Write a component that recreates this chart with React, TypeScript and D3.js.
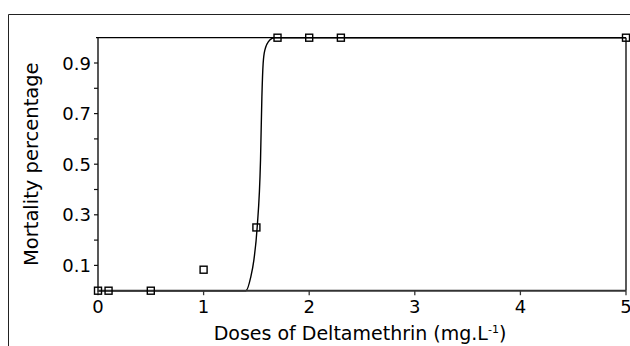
import React from "react";
import * as d3 from "d3";

const doses = [0, 0.1, 0.5, 1, 1.5, 1.7, 2, 2.3, 5];
const mortality = [0, 0, 0, 0.083, 0.25, 1, 1, 1, 1];

const fitX = [0, 1.4, 1.447, 1.476, 1.507, 1.539, 1.552, 1.564, 1.58, 1.627, 1.67, 5];
const fitY = [0, 0, 0.055, 0.121, 0.249, 0.517, 0.767, 0.899, 0.951, 0.991, 1, 1];

const xTicks = [0, 1, 2, 3, 4, 5];
const yTicksMajor = [0.1, 0.3, 0.5, 0.7, 0.9];
const yTicksMinor = [0.2, 0.4, 0.6, 0.8];

const W = 630;
const H = 346;
const FONT = "'DejaVu Sans', Verdana, sans-serif";

export default function App() {
  const left = 98, right = 626, top = 37.7, bottom = 290.7;
  const x = d3.scaleLinear().domain([0, 5]).range([left, right]);
  const y = d3.scaleLinear().domain([0, 1]).range([bottom, top]);

  const line = d3
    .line<number>()
    .x((_, i) => x(fitX[i]))
    .y((_, i) => y(fitY[i]))
    .curve(d3.curveMonotoneX);

  const sq = 7;

  return (
    <svg
      width={W}
      height={H}
      style={{ position: "absolute", left: 0, top: 0, background: "#fff" }}
      fontFamily={FONT}
    >
      <rect x={0} y={0} width={W} height={H} fill="#fff" />
      {/* outer frame */}
      <line x1={8.5} y1={14.5} x2={W} y2={14.5} stroke="#222" strokeWidth={1} />
      <line x1={8.5} y1={14.5} x2={8.5} y2={H} stroke="#222" strokeWidth={1} />

      {/* plot box top and right */}
      <line x1={left - 2} y1={top} x2={right} y2={top} stroke="#000" strokeWidth={1.3} />
      <line x1={right} y1={top} x2={right} y2={bottom} stroke="#000" strokeWidth={1.3} />

      {/* fitted curve */}
      <path d={line(fitX) || ""} fill="none" stroke="#000" strokeWidth={1.4} />

      {/* axes */}
      <line x1={left} y1={top} x2={left} y2={bottom + 1} stroke="#111" strokeWidth={1.4} />
      <line x1={left} y1={bottom} x2={right} y2={bottom} stroke="#333" strokeWidth={2} />

      {xTicks.map((t) => (
        <g key={"xt" + t}>
          <line x1={x(t)} y1={bottom} x2={x(t)} y2={bottom + 4.5} stroke="#333" strokeWidth={1.3} />
          <text x={x(t)} y={bottom + 22} textAnchor="middle" fontSize={18} fill="#000">
            {t}
          </text>
        </g>
      ))}

      {yTicksMajor.map((t) => (
        <g key={"yt" + t}>
          <line x1={left - 4} y1={y(t)} x2={left} y2={y(t)} stroke="#111" strokeWidth={1.2} />
          <text x={left - 7} y={y(t) + 6.5} textAnchor="end" fontSize={18} fill="#000">
            {t.toFixed(1)}
          </text>
        </g>
      ))}
      {yTicksMinor.map((t) => (
        <line key={"ym" + t} x1={left - 4} y1={y(t)} x2={left} y2={y(t)} stroke="#111" strokeWidth={1.2} />
      ))}

      {/* markers */}
      {doses.map((d, i) => (
        <rect
          key={"m" + i}
          x={x(d) - sq / 2}
          y={y(mortality[i]) - sq / 2}
          width={sq}
          height={sq}
          fill="none"
          stroke="#000"
          strokeWidth={1.4}
        />
      ))}

      {/* axis titles */}
      <text x={(left + right) / 2 - 2} y={340} textAnchor="middle" fontSize={19} fill="#000">
        Doses of Deltamethrin (mg.L
        <tspan dy={-7} fontSize={11}>-1</tspan>
        <tspan dy={7}>)</tspan>
      </text>
      <text
        transform={`translate(37.5,${(top + bottom) / 2}) rotate(-90)`}
        textAnchor="middle"
        fontSize={19.5}
        fill="#000"
      >
        Mortality percentage
      </text>
    </svg>
  );
}
